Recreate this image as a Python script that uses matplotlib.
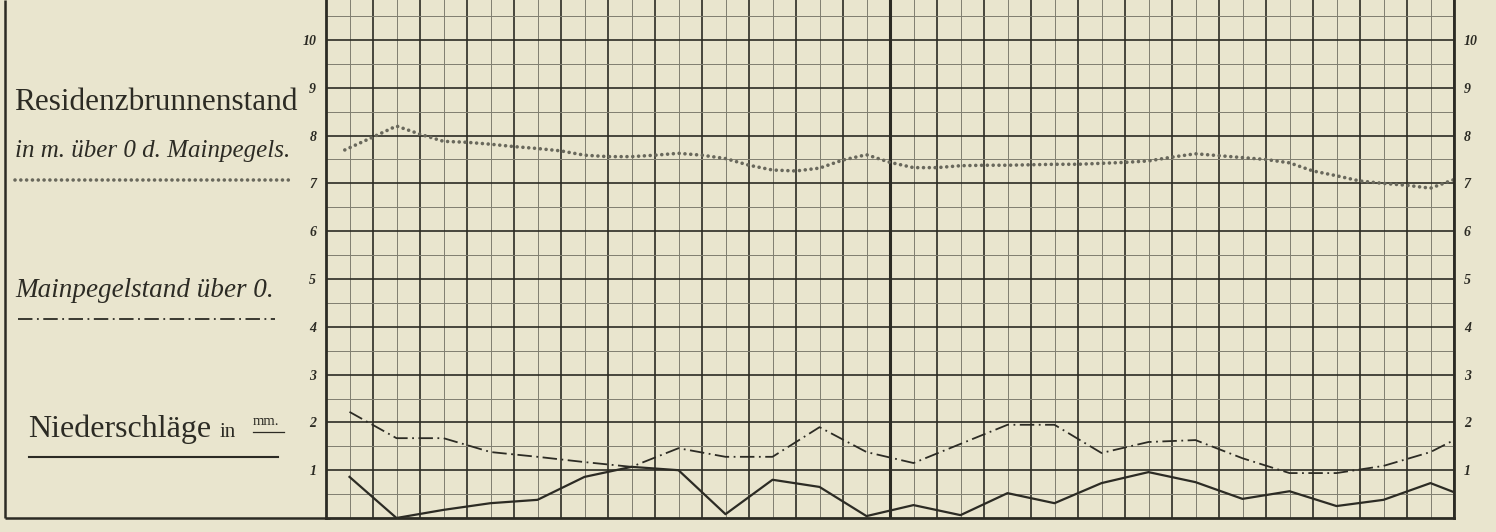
import numpy as np
import matplotlib as mpl
mpl.use("Agg")
import matplotlib.pyplot as plt

# x is measured in half-month columns (0 = left frame, 24 = right frame)
# Residenzbrunnenstand in m über 0 d. Mainpegels
brunnen_x = [0.4, 1.0, 1.5, 2.0, 2.5, 3.0, 3.5, 4.0, 4.5, 5.0, 5.5, 6.0,
             6.5, 7.0, 7.5, 8.0, 8.5, 9.0, 9.5, 10.0, 10.5, 11.0, 11.5, 12.0,
             12.5, 13.0, 13.5, 14.0, 14.5, 15.0, 15.5, 16.0, 16.5, 17.0, 17.5,
             18.0, 18.5, 19.0, 19.5, 20.0, 20.5, 21.0, 21.5, 22.0, 22.5, 23.0,
             23.5, 24.0]
brunnen_m = [7.70, 7.97, 8.20, 8.03, 7.88, 7.86, 7.82, 7.77, 7.73, 7.68, 7.59, 7.56,
             7.56, 7.59, 7.63, 7.59, 7.52, 7.38, 7.28, 7.26, 7.32, 7.49, 7.60, 7.44,
             7.33, 7.33, 7.37, 7.38, 7.38, 7.39, 7.40, 7.40, 7.42, 7.44, 7.47,
             7.55, 7.62, 7.58, 7.54, 7.50, 7.43, 7.26, 7.16, 7.05, 7.00, 6.96,
             6.90, 7.08]

# Mainpegelstand über 0 (m), half-monthly
pegel_x = [0.5, 1.5, 2.5, 3.5, 4.5, 5.5, 6.5, 7.5, 8.5, 9.5, 10.5, 11.5,
           12.5, 13.5, 14.5, 15.5, 16.5, 17.5, 18.5, 19.5, 20.5, 21.5, 22.5,
           23.5, 24.0]
pegel_m = [2.22, 1.67, 1.67, 1.38, 1.28, 1.17, 1.07, 1.46, 1.28, 1.28, 1.90, 1.38,
           1.15, 1.55, 1.95, 1.95, 1.36, 1.59, 1.63, 1.25, 0.94, 0.94, 1.09,
           1.38, 1.63]

# Niederschläge in mm, half-monthly
regen_x = pegel_x
regen_mm = [0.86, 0.00, 0.17, 0.31, 0.38, 0.86, 1.07, 1.00, 0.08, 0.80, 0.65, 0.04,
            0.27, 0.06, 0.52, 0.31, 0.73, 0.96, 0.75, 0.40, 0.56, 0.25, 0.38,
            0.73, 0.54]

y_ticks = [1, 2, 3, 4, 5, 6, 7, 8, 9, 10]

PAPER = "#e9e5ce"
INK = "#2c2b24"
THIN = "#7f7d70"
DOTS = "#69685c"

W, H = 1496, 532


def main():
    fig = plt.figure(figsize=(W / 100, H / 100), dpi=100, facecolor=PAPER)

    # left panel, pixel coordinates
    pan = fig.add_axes([0, 0, 1, 1])
    pan.set_xlim(0, W)
    pan.set_ylim(H, 0)
    pan.axis("off")
    pan.plot([5, 5], [0, 518], color=INK, lw=1.8, solid_capstyle="butt")
    pan.plot([5, 330], [518, 518], color=INK, lw=1.8, solid_capstyle="butt")

    serif = "Liberation Serif"
    pan.text(14, 110, "Residenzbrunnenstand", fontsize=22.5, family=serif,
             color=INK, va="baseline", ha="left")
    pan.text(15, 157, "in m. über 0 d. Mainpegels.", fontsize=18,
             family=serif, style="italic", color=INK,
             va="baseline", ha="left")
    pan.text(15, 297, "Mainpegelstand über 0.", fontsize=19.5,
             family=serif, style="italic", color=INK,
             va="baseline", ha="left")
    pan.text(28, 437, "Niederschläge", fontsize=23, family=serif,
             color=INK, va="baseline", ha="left")
    pan.text(220, 437, "in", fontsize=15, family=serif, color=INK,
             va="baseline", ha="left")
    pan.text(253, 425, "mm.", fontsize=10.5, family=serif, color=INK,
             va="baseline", ha="left")
    pan.plot([253, 284], [432, 432], color=INK, lw=0.9)

    pan.plot([15, 293], [180, 180], color=DOTS, lw=2.6,
             linestyle=(0, (0.01, 1.6)), dash_capstyle="round")
    pan.plot([18, 275], [319, 319], color=INK, lw=1.3,
             linestyle=(0, (8, 2.5, 1, 2.5)))
    pan.plot([29, 278], [457, 457], color=INK, lw=1.5)

    # chart
    ax = fig.add_axes([326 / W, (H - 518) / H, 1128 / W, 518 / H])
    ax.set_facecolor(PAPER)
    ax.set_xlim(0, 24)
    ax.set_ylim(0, 518 / 47.8)

    ax.set_xticks(np.arange(0, 25, 1))
    ax.set_xticks(np.arange(0.5, 24, 1), minor=True)
    ax.set_yticks(y_ticks, labels=[str(v) for v in y_ticks])
    ax.set_yticks(np.arange(0.5, 11, 1), minor=True)
    ax.grid(which="major", color=INK, lw=1.2)
    ax.grid(which="minor", color=THIN, lw=0.7)
    ax.axvline(12, color=INK, lw=2.2)
    ax.set_axisbelow(True)

    ax.tick_params(axis="both", which="both", length=0)
    ax.tick_params(axis="x", labelbottom=False)
    ax.tick_params(axis="y", labelleft=True, labelright=True, pad=7)
    for tick in ax.yaxis.get_major_ticks():
        for lab in (tick.label1, tick.label2):
            lab.set_fontfamily(serif)
            lab.set_fontstyle("italic")
            lab.set_fontweight("bold")
            lab.set_fontsize(10)
            lab.set_color(INK)

    for side in ("left", "right", "bottom"):
        ax.spines[side].set_color(INK)
        ax.spines[side].set_linewidth(2.0)
    ax.spines["top"].set_visible(False)

    ax.plot(brunnen_x, brunnen_m, color=DOTS, lw=2.6,
            linestyle=(0, (0.01, 1.6)), dash_capstyle="round")
    ax.plot(pegel_x, pegel_m, color=INK, lw=1.3,
            linestyle=(0, (8, 2.5, 1, 2.5)))
    ax.plot(regen_x, regen_mm, color=INK, lw=1.6)

    fig.savefig("out.png", dpi=100, facecolor=PAPER)


if __name__ == "__main__":
    main()
